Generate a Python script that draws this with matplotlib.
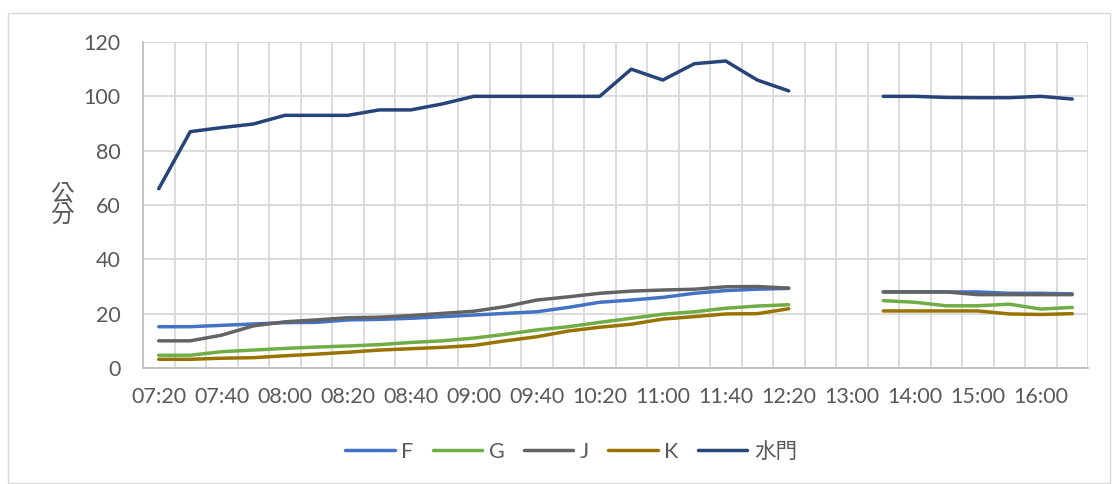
import numpy as np
import matplotlib
matplotlib.use("Agg")
import matplotlib.pyplot as plt
from matplotlib.patches import Rectangle

plt.rcParams['font.family'] = ['Lato', 'Noto Sans CJK TC', 'DejaVu Sans']

categories = ["07:20", "07:30", "07:40", "07:50", "08:00", "08:10", "08:20", "08:30",
              "08:40", "08:50", "09:00", "09:20", "09:40", "10:00", "10:20", "10:40",
              "11:00", "11:20", "11:40", "12:00", "12:20", "12:40", "13:00", "13:30",
              "14:00", "14:30", "15:00", "15:30", "16:00", "16:30"]
nan = np.nan
F = [15.2, 15.2, 15.7, 16.2, 16.7, 16.8, 17.7, 17.9, 18.3, 18.9, 19.5, 20.1, 20.7, 22.3,
     24.2, 25.0, 26.0, 27.5, 28.5, 29.0, 29.3, nan, nan, 28.0, 28.0, 28.0, 28.0, 27.5, 27.5, 27.3]
G = [4.7, 4.7, 6.0, 6.6, 7.2, 7.7, 8.1, 8.6, 9.4, 10.0, 11.0, 12.4, 14.0, 15.2,
     16.8, 18.3, 19.8, 20.7, 22.0, 22.8, 23.3, nan, nan, 24.8, 24.2, 22.9, 22.9, 23.5, 21.7, 22.3]
J = [10.0, 10.0, 12.1, 15.5, 17.0, 17.7, 18.5, 18.7, 19.3, 20.1, 20.9, 22.6, 25.0, 26.2,
     27.5, 28.3, 28.7, 29.0, 29.9, 30.0, 29.4, nan, nan, 28.0, 28.0, 28.0, 27.0, 27.0, 27.0, 27.0]
K = [3.2, 3.2, 3.6, 3.8, 4.5, 5.1, 5.8, 6.6, 7.1, 7.6, 8.3, 10.0, 11.5, 13.6,
     15.0, 16.1, 18.0, 18.9, 19.9, 20.0, 21.8, nan, nan, 21.0, 21.0, 21.0, 21.0, 19.9, 19.7, 20.0]
SM = [66, 87, 88.5, 89.8, 93, 93, 93, 95, 95, 97.2, 100, 100, 100, 100,
      100, 110, 106, 112, 113, 106, 102, nan, nan, 100, 100, 99.6, 99.5, 99.5, 100, 99]
series_names = ["F", "G", "J", "K", "水門"]
series_values = [F, G, J, K, SM]
colors = ["#4472C4", "#70AD47", "#636363", "#997300", "#264478"]
yticks = [0, 20, 40, 60, 80, 100, 120]

W, H = 1118, 484
fig = plt.figure(figsize=(W / 100, H / 100), dpi=100)
fig.patches.append(Rectangle((8 / W, 1 / H), (1110 - 8) / W, (484 - 13 - 1) / H,
                             transform=fig.transFigure, fill=False,
                             edgecolor="#d9d9d9", lw=1.0))

left, right, top, bottom = 143, 1088, 42, 368
ax = fig.add_axes([left / W, 1 - bottom / H, (right - left) / W, (bottom - top) / H])

x = np.arange(len(categories))
for name, vals, c in zip(series_names, series_values, colors):
    ax.plot(x, vals, color=c, lw=2.5, label=name, solid_capstyle="round",
            solid_joinstyle="round", zorder=3)

ax.set_xlim(-0.5, len(categories) - 0.5)
ax.set_ylim(0, 120)
ax.set_yticks(yticks)
ax.set_xticks(x[::2])
ax.set_xticklabels(categories[::2])
ax.set_xticks(np.arange(-0.5, len(categories), 1.0), minor=True)
ax.grid(True, which="minor", axis="x", color="#d9d9d9", lw=1.3, zorder=0)
ax.grid(True, which="major", axis="y", color="#d9d9d9", lw=1.3, zorder=0)
ax.grid(False, which="major", axis="x")
ax.tick_params(axis="both", which="both", length=0, colors="#595959", labelsize=15.5)
ax.tick_params(axis="y", pad=16)
ax.tick_params(axis="x", pad=14)
for s in ["top", "right"]:
    ax.spines[s].set_visible(False)
for s in ["left", "bottom"]:
    ax.spines[s].set_color("#bfbfbf")
    ax.spines[s].set_linewidth(1.3)

fig.text(62 / W, 1 - 205 / H, "公\n分", ha="center", va="center", fontsize=17,
         color="#595959", family=["Noto Sans CJK TC"], linespacing=1.0,
         fontweight="light")

leg = fig.legend(loc="center", bbox_to_anchor=(571 / W, 1 - 452 / H), ncol=5,
                 frameon=False, fontsize=15.5, handlelength=2.3, handletextpad=0.3,
                 columnspacing=0.9)
for t in leg.get_texts():
    t.set_color("#595959")

fig.savefig("out.png", dpi=100)
